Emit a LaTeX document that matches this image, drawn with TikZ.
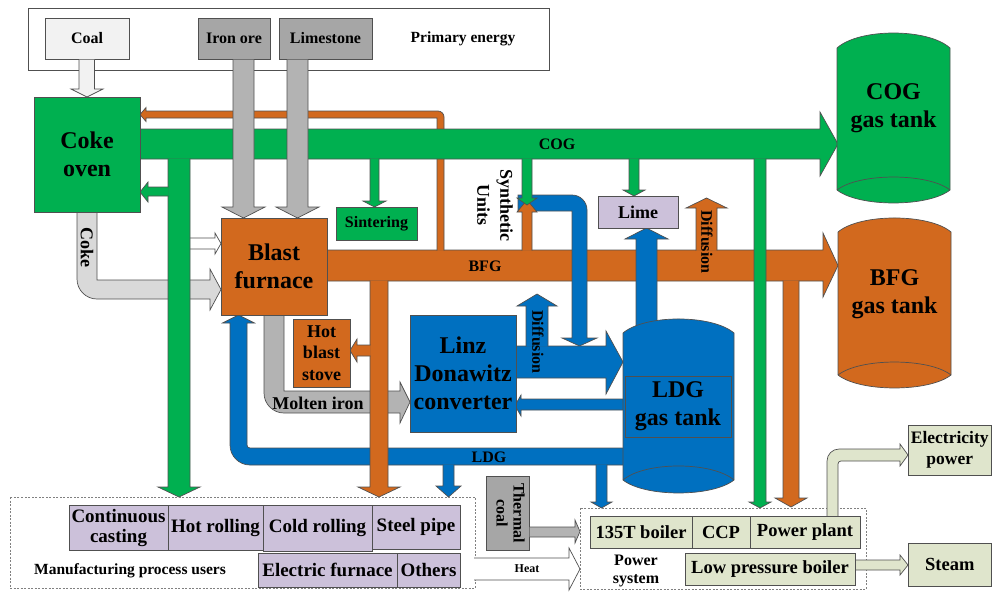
\documentclass[tikz,border=0pt]{standalone}
\usepackage{fontspec}
\setmainfont{Liberation Serif}
\definecolor{cgreen}{HTML}{00B050}
\definecolor{corange}{HTML}{D2691E}
\definecolor{cblue}{HTML}{0070C0}
\definecolor{clav}{HTML}{CCC1DA}
\definecolor{cgray}{HTML}{A6A6A6}
\definecolor{cgrayarrow}{HTML}{B3B3B3}
\definecolor{clgray}{HTML}{D9D9D9}
\definecolor{cwgray}{HTML}{F2F2F2}
\definecolor{clgreen}{HTML}{DFE5CC}
\definecolor{bordc}{HTML}{505050}
\newcommand\fsz[2]{\fontsize{#1pt}{#2pt}\selectfont\bfseries}
\newcommand\bx[8]{\node[boxst, fill=#6, font=#7, minimum width=#4pt-#2pt, minimum height=#5pt-#3pt] (#1) at ({(#2+#4)/2},{(#3+#5)/2}) {#8};}
\tikzset{
  ln/.style={draw=bordc, line width=0.7pt, line join=miter},
  boxst/.style={draw=bordc, line width=0.7pt, inner sep=0pt, outer sep=0pt, align=center},
  lbl/.style={inner sep=0pt, align=center},
  dbox/.style={draw=black!50, dash pattern=on 2pt off 1.5pt, line width=0.7pt},
}
\begin{document}
\begin{tikzpicture}[x=1pt,y=-1pt]
\useasboundingbox (0,0) rectangle (992,592);
% ---------- primary energy ----------
\bx{prim}{28}{8}{549}{70}{white}{}{}
\node[lbl, font=\fsz{15.5}{18}] (primt) at (463,39) {Primary energy};
\bx{coal}{45}{18}{129}{59}{cwgray}{\fsz{16}{19}}{Coal}
\bx{iron}{198}{18}{270}{59}{cgray}{\fsz{16}{19}}{Iron ore}
\bx{limes}{279}{18}{372}{59}{cgray}{\fsz{16}{19}}{Limestone}
\draw[ln, fill=cwgray] (79,59.5) -- (79,89) -- (71,89) -- (87,97) -- (103,89) -- (94.5,89) -- (94.5,59.5);
% ---------- BFG main ----------
\draw[ln, fill=corange] (327,250) -- (823,250) -- (823,233) -- (838,265.5) -- (823,297) -- (823,281) -- (327,281) -- cycle;
\draw[ln, fill=corange] (444,250.5) -- (444,117) .. controls (444,113.7) and (441.3,111) .. (438,111) -- (146,111) -- (146,107.5) -- (140,114.5) -- (146,121.5) -- (146,118) -- (437,118) -- (437,250.5);
\draw[ln, fill=corange] (696,250.5) -- (696,208) -- (686,208) -- (706.5,198) -- (727,208) -- (717,208) -- (717,250.5);
\draw[ln, fill=corange] (783,280.5) -- (783,498) -- (775,498) -- (791,507) -- (807,498) -- (799,498) -- (799,280.5);
% ---------- COG main ----------
\draw[ln, fill=cgreen] (140,129) -- (820,129) -- (820,112) -- (838,144) -- (820,176) -- (820,159) -- (140,159) -- cycle;
\draw[ln, fill=cgreen] (370,158.5) -- (370,201) -- (363,201) -- (374.5,207) -- (386,201) -- (379,201) -- (379,158.5);
\draw[ln, fill=cgreen] (629,158.5) -- (629,190) -- (623,190) -- (634,196) -- (645,190) -- (639,190) -- (639,158.5);
% ---------- iron ore / limestone ----------
\draw[ln, fill=cgrayarrow] (233,59.5) -- (233,207) -- (222,207) -- (243.5,218) -- (265,207) -- (254,207) -- (254,59.5);
\draw[ln, fill=cgrayarrow] (287,59.5) -- (287,207) -- (276,207) -- (297.5,218) -- (319,207) -- (308,207) -- (308,59.5);
% ---------- coke ----------
\draw[ln, fill=clgray] (77,212) -- (77,279) .. controls (77,290) and (86,299) .. (97,299) -- (210,299) -- (210,310) -- (221,289.5) -- (210,269) -- (210,280) -- (97,280) -- (97,212);
\node[lbl, rotate=-90, font=\fsz{18}{21}] (cokel) at (87,247) {Coke};
\draw[ln, fill=white] (189,238) -- (215,238) -- (215,233) -- (221,243.5) -- (215,254) -- (215,249) -- (189,249);
% ---------- green left vertical ----------
\draw[ln, fill=cgreen] (168,158.5) -- (168,487) -- (158,487) -- (179,497) -- (200,487) -- (190,487) -- (190,158.5);
\draw[ln, fill=cgreen] (168.5,187) -- (148,187) -- (148,182) -- (140,192) -- (148,202) -- (148,196) -- (168.5,196);
% ---------- molten iron ----------
\draw[ln, fill=cgrayarrow] (264,315) -- (264,393) .. controls (264,404) and (273,413) .. (284,413) -- (400,413) -- (400,423) -- (410,402) -- (400,382) -- (400,391) -- (284,391) -- (284,315);
\node[lbl, font=\fsz{18}{21}] (molt) at (318,403) {Molten iron};
% ---------- LDG pipe ----------
\draw[ln, fill=cblue] (624,448) -- (250,448) .. controls (248.3,448) and (247,446.7) .. (247,445) -- (247,323) -- (254.5,323) -- (238.5,315) -- (222.5,323) -- (230,323) -- (230,445) .. controls (230,456) and (239,465) .. (250,465) -- (624,465);
\draw[ln, fill=cblue] (443,464.5) -- (443,486) -- (436,486) -- (448.5,497) -- (461,486) -- (454,486) -- (454,464.5);
\draw[ln, fill=cblue] (596,464.5) -- (596,502) -- (591,502) -- (601.5,508) -- (612,502) -- (607,502) -- (607,464.5);
\node[lbl, font=\fsz{16}{19}] (ldgl) at (489,457) {LDG};
% ---------- BFG down left + stove ----------
\draw[ln, fill=corange] (370,280.5) -- (370,487) -- (358,487) -- (379,497) -- (400,487) -- (388,487) -- (388,280.5);
\draw[ln, fill=corange] (370.5,345) -- (357,345) -- (357,339) -- (350,350.5) -- (357,362) -- (357,356) -- (370.5,356);
% ---------- green right vertical ----------
\draw[ln, fill=cgreen] (754,158.5) -- (754,502) -- (749,502) -- (760,508) -- (771,502) -- (766,502) -- (766,158.5);
% ---------- blue synth pipe + synthetic units ----------
\draw[ln, fill=cblue] (518,195) -- (572,195) .. controls (580.3,195) and (587,201.7) .. (587,210) -- (587,338) -- (597,338) -- (579.5,346) -- (562,338) -- (572,338) -- (572,211) -- (518,211) -- cycle;
\draw[ln, fill=corange] (522,250.5) -- (522,212) -- (517,212) -- (527,200) -- (537,212) -- (532,212) -- (532,250.5);
\draw[ln, fill=cgreen] (522,158.5) -- (522,198) -- (517,198) -- (527,205) -- (537,198) -- (532,198) -- (532,158.5);
\node[lbl, rotate=-90, font=\fsz{18}{23}] (synth) at (495,205) {Synthetic\\Units};
% ---------- blue arrows ----------
\draw[ln, fill=cblue] (636,336) -- (636,239) -- (625,239) -- (646.5,228) -- (668,239) -- (657,239) -- (657,336);
\draw[ln, fill=cblue] (515,346) -- (606,346) -- (606,331) -- (623,362) -- (606,394) -- (606,378) -- (515,378);
\draw[ln, fill=cblue] (526,346.5) -- (526,306) -- (517,306) -- (537,294) -- (557,306) -- (548,306) -- (548,346.5);
\draw[ln, fill=cblue] (623,399) -- (521,399) -- (521,395) -- (515,405.5) -- (521,416) -- (521,410) -- (623,410);
\node[lbl, rotate=-90, font=\fsz{16}{19}] (diff1) at (538,342) {Diffusion};
\node[lbl, rotate=-90, font=\fsz{16}{19}] (diff2) at (707,242) {Diffusion};
\node[lbl, font=\fsz{16}{19}] (cogl) at (557,144) {COG};
\node[lbl, font=\fsz{16}{19}] (bfgl) at (485,266) {BFG};
% ---------- main boxes ----------
\bx{coke}{34}{97}{140}{212}{cgreen}{\fsz{24}{28}}{Coke\\oven}
\bx{bf}{221}{218}{327}{315}{corange}{\fsz{24}{28}}{Blast\\furnace}
\bx{sint}{336}{207}{417}{240}{cgreen}{\fsz{16}{19}}{Sintering}
\bx{lime}{598}{196}{678}{228}{clav}{\fsz{18}{21}}{Lime}
\bx{hbs}{293}{319}{350}{387}{corange}{\fsz{18}{21.5}}{Hot\\blast\\stove}
\bx{linz}{410}{315}{516}{432}{cblue}{\fsz{24}{28}}{Linz\\Donawitz\\converter}
% ---------- tanks ----------
\draw[ln, fill=cgreen] (837,48) .. controls (859,28) and (928,28) .. (950,48) -- (950,190) .. controls (928,207.3) and (859,207.3) .. (837,190) -- cycle;
\draw[ln] (837,190) .. controls (859,172.7) and (928,172.7) .. (950,190);
\node[lbl, font=\fsz{24}{28}] (cogt) at (893.5,108) {COG\\gas tank};
\draw[ln, fill=corange] (838,232) .. controls (860,213.3) and (929,213.3) .. (951,232) -- (951,375) .. controls (929,392.3) and (860,392.3) .. (838,375) -- cycle;
\draw[ln] (838,375) .. controls (860,357.7) and (929,357.7) .. (951,375);
\node[lbl, font=\fsz{24}{28}] (bfgt) at (894.5,294) {BFG\\gas tank};
\draw[ln, fill=cblue] (623,333) .. controls (645,314.3) and (712,314.3) .. (734,333) -- (734,480) .. controls (712,497.3) and (645,497.3) .. (623,480) -- cycle;
\draw[ln] (623,480) .. controls (645,461.3) and (712,461.3) .. (734,480);
\bx{ldgt}{625}{376}{731}{437}{cblue}{\fsz{24}{28}}{LDG\\gas tank}
% ---------- manufacturing ----------
\draw[dbox] (10,497) rectangle (475,588);
\bx{cc}{69}{505}{168}{550}{clav}{\fsz{19}{20}}{Continuous\\casting}
\bx{hr}{168}{505}{263}{550}{clav}{\fsz{19}{20}}{Hot rolling}
\bx{cr}{263}{505}{372}{551}{clav}{\fsz{19}{20}}{Cold rolling}
\bx{sp}{372}{505}{460}{549}{clav}{\fsz{19}{20}}{Steel pipe}
\bx{ef}{258}{553}{397}{587}{clav}{\fsz{19}{20}}{Electric furnace}
\bx{ot}{397}{553}{460}{587}{clav}{\fsz{19}{20}}{Others}
\node[lbl, font=\fsz{15.5}{18}] (mpu) at (130,571) {Manufacturing process users};
% ---------- power system ----------
\draw[ln, fill=white] (474,558) -- (569,558) -- (569,548) -- (580,569) -- (569,590) -- (569,580) -- (474,580);
\node[lbl, font=\fsz{12}{14}] (heat) at (527,569) {Heat};
\bx{tcoal}{486}{476}{529}{550}{cgray}{}{}
\node[lbl, rotate=-90, font=\fsz{16}{17}] (tcoalt) at (510.5,513) {Thermal\\coal};
\draw[ln, fill=cgrayarrow] (529.5,527) -- (575,527) -- (575,520) -- (580,531.5) -- (575,543) -- (575,537) -- (529.5,537);
\draw[dbox] (580,508) rectangle (866,589);
\draw[ln, fill=clgreen] (827,517) -- (827,461) .. controls (827,454.4) and (832.4,449) .. (839,449) -- (900,449) -- (900,444) -- (908,455) -- (900,466) -- (900,461) -- (841,461) .. controls (839.3,461) and (838,462.3) .. (838,464) -- (838,517);
\draw[ln, fill=clgreen] (855,560) -- (900,560) -- (900,555) -- (908,565) -- (900,575) -- (900,570) -- (855,570);
\bx{b135}{590}{516}{692}{548}{clgreen}{\fsz{18.5}{21}}{135T boiler}
\bx{ccp}{692}{516}{750}{548}{clgreen}{\fsz{18.5}{21}}{CCP}
\bx{pp}{750}{516}{860}{548}{clgreen}{\fsz{18.5}{21}}{Power plant}
\bx{lpb}{685}{553}{855}{585}{clgreen}{\fsz{18.5}{21}}{Low pressure boiler}
\node[lbl, font=\fsz{16}{18}] (psys) at (636,571) {Power\\system};
\bx{elec}{908}{425}{991.5}{475}{clgreen}{\fsz{17.5}{21}}{Electricity\\power}
\bx{steam}{908}{543}{991.5}{586}{clgreen}{\fsz{18.5}{21}}{Steam}
\end{tikzpicture}
\end{document}
